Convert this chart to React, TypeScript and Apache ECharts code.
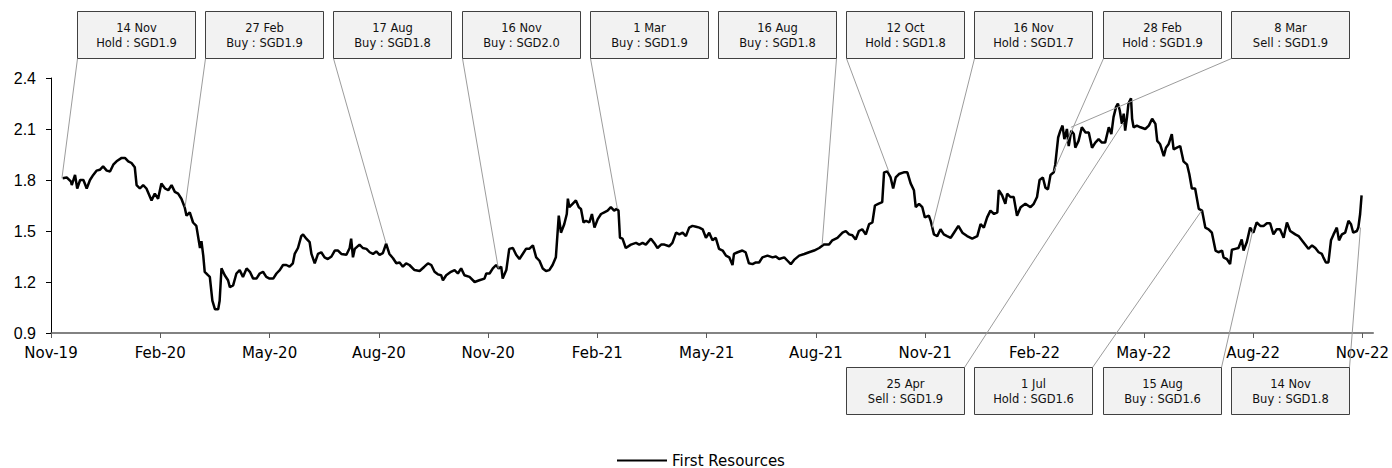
import React, { useEffect, useRef } from "react";
import * as echarts from "echarts";

// ---------- DATA ----------
// x positions are months since 1 Nov 2019 (Nov-19 = 0, Nov-22 = 36)
const xTickLabels = ["Nov-19", "Feb-20", "May-20", "Aug-20", "Nov-20", "Feb-21", "May-21", "Aug-21", "Nov-21", "Feb-22", "May-22", "Aug-22", "Nov-22"];
const xTickMonths = [0, 3, 6, 9, 12, 15, 18, 21, 24, 27, 30, 33, 36];
const seriesName = "First Resources";

const pricesA: [number, number][] = [
  [0.32, 1.81], [0.43, 1.815], [0.55, 1.79], [0.57, 1.77], [0.66, 1.83], [0.72, 1.75], [0.8, 1.8], [0.89, 1.8], [0.98, 1.75], [1.07, 1.8],
  [1.16, 1.83], [1.25, 1.855], [1.34, 1.86], [1.43, 1.88], [1.53, 1.855], [1.62, 1.85], [1.71, 1.89], [1.8, 1.91], [1.94, 1.93], [2.03, 1.93],
  [2.12, 1.91], [2.21, 1.9], [2.3, 1.875], [2.35, 1.77], [2.44, 1.75], [2.53, 1.77], [2.62, 1.75], [2.76, 1.68], [2.85, 1.72], [2.94, 1.69],
  [3.03, 1.78], [3.13, 1.75], [3.22, 1.74], [3.31, 1.77], [3.4, 1.73], [3.49, 1.72], [3.58, 1.69], [3.67, 1.64], [3.72, 1.59], [3.81, 1.61],
  [3.9, 1.55], [3.99, 1.53], [4.09, 1.4], [4.13, 1.44], [4.18, 1.355], [4.22, 1.26], [4.31, 1.24], [4.36, 1.23], [4.43, 1.09], [4.5, 1.04],
  [4.59, 1.04], [4.63, 1.09], [4.68, 1.28], [4.77, 1.24], [4.86, 1.21], [4.91, 1.17], [5.0, 1.18], [5.09, 1.25], [5.18, 1.27], [5.27, 1.23],
  [5.37, 1.28], [5.46, 1.26], [5.55, 1.22], [5.64, 1.22], [5.73, 1.25], [5.82, 1.26], [5.91, 1.23], [6.0, 1.22], [6.1, 1.22], [6.19, 1.25],
  [6.28, 1.27], [6.37, 1.3], [6.46, 1.3], [6.55, 1.29], [6.64, 1.31], [6.69, 1.365], [6.78, 1.4], [6.87, 1.47], [6.92, 1.48], [7.01, 1.455],
  [7.1, 1.435], [7.15, 1.365], [7.24, 1.31], [7.33, 1.365], [7.42, 1.375], [7.51, 1.345], [7.6, 1.335], [7.7, 1.35], [7.79, 1.385], [7.88, 1.385],
  [7.97, 1.365], [8.11, 1.36], [8.2, 1.4], [8.24, 1.455], [8.29, 1.345], [8.34, 1.395], [8.47, 1.42], [8.56, 1.4], [8.66, 1.395], [8.75, 1.375],
  [8.84, 1.365], [8.93, 1.38], [9.02, 1.36], [9.11, 1.37], [9.2, 1.425], [9.29, 1.365], [9.39, 1.34], [9.48, 1.31], [9.57, 1.315], [9.66, 1.29],
  [9.75, 1.31], [9.84, 1.3], [9.98, 1.27], [10.12, 1.265], [10.25, 1.29], [10.35, 1.31], [10.44, 1.3], [10.53, 1.26], [10.62, 1.245], [10.71, 1.24],
  [10.76, 1.21], [10.85, 1.24], [10.98, 1.26], [11.08, 1.27], [11.17, 1.25], [11.26, 1.28], [11.35, 1.24],
];

const pricesB: [number, number][] = [
  [11.49, 1.23], [11.63, 1.2], [11.76, 1.21], [11.9, 1.22], [11.95, 1.25], [12.04, 1.25], [12.13, 1.28], [12.22, 1.3], [12.29, 1.28], [12.36, 1.29],
  [12.4, 1.22], [12.5, 1.27], [12.58, 1.395], [12.68, 1.4], [12.77, 1.36], [12.86, 1.335], [12.95, 1.365], [13.04, 1.395], [13.13, 1.395], [13.23, 1.415],
  [13.32, 1.345], [13.41, 1.325], [13.5, 1.28], [13.59, 1.265], [13.68, 1.27], [13.77, 1.3], [13.86, 1.345], [13.94, 1.59], [14.0, 1.49], [14.09, 1.54],
  [14.16, 1.6], [14.19, 1.69], [14.23, 1.64], [14.32, 1.66], [14.41, 1.68], [14.49, 1.64], [14.55, 1.63], [14.62, 1.55], [14.69, 1.56], [14.78, 1.55],
  [14.85, 1.6], [14.92, 1.52], [15.01, 1.57], [15.1, 1.6], [15.19, 1.61], [15.28, 1.62], [15.37, 1.64], [15.46, 1.62], [15.53, 1.63], [15.58, 1.62],
  [15.62, 1.46], [15.69, 1.455], [15.78, 1.4], [15.92, 1.42], [16.06, 1.43], [16.15, 1.42], [16.24, 1.43], [16.33, 1.42], [16.47, 1.455], [16.56, 1.43],
  [16.65, 1.4], [16.75, 1.42], [16.84, 1.42], [16.97, 1.41], [17.06, 1.43], [17.16, 1.49], [17.25, 1.48], [17.34, 1.49], [17.43, 1.47], [17.52, 1.52],
  [17.61, 1.53], [17.71, 1.525], [17.8, 1.52], [17.89, 1.51], [17.98, 1.46], [18.07, 1.49], [18.16, 1.445], [18.25, 1.46], [18.34, 1.395], [18.44, 1.385],
  [18.53, 1.355], [18.62, 1.345], [18.71, 1.3], [18.75, 1.365], [18.85, 1.375], [18.98, 1.385], [19.07, 1.375], [19.16, 1.31], [19.26, 1.305], [19.35, 1.315],
  [19.44, 1.315], [19.53, 1.345], [19.67, 1.355], [19.81, 1.345], [19.9, 1.35], [19.99, 1.335], [20.13, 1.345], [20.22, 1.325], [20.31, 1.305], [20.4, 1.33],
  [20.54, 1.355], [20.68, 1.365], [20.81, 1.375], [20.95, 1.385], [21.09, 1.4], [21.22, 1.42], [21.36, 1.42], [21.45, 1.445], [21.59, 1.46], [21.73, 1.49],
  [21.82, 1.5], [21.91, 1.48], [22.0, 1.475], [22.09, 1.45], [22.18, 1.5], [22.27, 1.51], [22.37, 1.48], [22.46, 1.54], [22.55, 1.55], [22.62, 1.65],
  [22.71, 1.66], [22.82, 1.67], [22.87, 1.845], [22.96, 1.85], [23.05, 1.815], [23.12, 1.75], [23.19, 1.815], [23.28, 1.835], [23.41, 1.845], [23.51, 1.845],
  [23.6, 1.78], [23.69, 1.74], [23.74, 1.64], [23.83, 1.66], [23.92, 1.64], [23.99, 1.58], [24.1, 1.59],
];

const pricesC: [number, number][] = [
  [24.15, 1.56], [24.24, 1.48], [24.33, 1.47], [24.42, 1.51], [24.51, 1.48], [24.6, 1.47], [24.7, 1.46], [24.79, 1.49], [24.91, 1.53], [25.02, 1.49],
  [25.15, 1.47], [25.29, 1.455], [25.43, 1.47], [25.52, 1.54], [25.61, 1.52], [25.7, 1.58], [25.79, 1.62], [25.89, 1.6], [25.98, 1.61], [26.02, 1.74],
  [26.11, 1.71], [26.2, 1.66], [26.25, 1.72], [26.34, 1.7], [26.43, 1.7], [26.52, 1.59], [26.62, 1.64], [26.75, 1.66], [26.89, 1.64], [26.98, 1.66],
  [27.07, 1.7], [27.14, 1.8], [27.23, 1.815], [27.3, 1.755], [27.37, 1.745], [27.44, 1.83], [27.53, 1.845], [27.57, 1.89], [27.65, 2.05], [27.71, 2.09],
  [27.77, 2.12], [27.82, 2.04], [27.89, 2.1], [27.94, 2.0], [28.01, 2.09], [28.08, 2.07], [28.12, 1.99], [28.21, 2.03], [28.3, 2.11], [28.4, 2.08],
  [28.49, 2.08], [28.58, 1.99], [28.67, 2.02], [28.76, 2.04], [28.85, 2.02], [28.94, 2.02], [29.04, 2.11], [29.11, 2.07], [29.17, 2.17], [29.24, 2.23],
  [29.29, 2.25], [29.34, 2.21], [29.4, 2.13], [29.45, 2.19], [29.49, 2.09], [29.54, 2.17], [29.58, 2.25], [29.65, 2.28], [29.68, 2.16], [29.72, 2.11],
  [29.81, 2.12], [29.91, 2.11], [30.04, 2.1], [30.14, 2.12], [30.23, 2.16], [30.32, 2.13], [30.37, 2.03], [30.45, 2.01], [30.55, 1.94], [30.61, 1.99],
  [30.68, 2.01], [30.77, 2.07], [30.82, 1.98], [30.91, 1.99], [31.0, 2.0], [31.09, 1.91], [31.19, 1.89], [31.25, 1.835], [31.32, 1.75], [31.41, 1.75],
  [31.51, 1.63], [31.6, 1.62], [31.69, 1.52], [31.78, 1.51], [31.87, 1.49], [31.97, 1.385], [32.05, 1.375], [32.15, 1.385], [32.19, 1.345], [32.28, 1.335],
  [32.37, 1.305], [32.42, 1.39], [32.51, 1.395], [32.6, 1.4], [32.69, 1.45], [32.74, 1.385], [32.83, 1.435], [32.92, 1.52], [33.01, 1.49], [33.1, 1.55],
  [33.2, 1.53], [33.29, 1.53], [33.38, 1.545], [33.47, 1.545], [33.56, 1.48], [33.65, 1.51], [33.74, 1.51], [33.84, 1.46], [33.93, 1.55], [34.02, 1.5],
  [34.16, 1.48], [34.25, 1.47], [34.34, 1.445], [34.43, 1.42], [34.52, 1.395], [34.62, 1.415], [34.71, 1.4], [34.8, 1.375], [34.89, 1.365], [34.93, 1.345],
  [35.0, 1.315], [35.07, 1.315], [35.14, 1.445], [35.21, 1.48], [35.3, 1.52], [35.36, 1.445], [35.44, 1.48], [35.53, 1.49], [35.62, 1.56], [35.69, 1.54],
  [35.75, 1.49], [35.85, 1.5], [35.89, 1.52], [35.94, 1.6], [35.98, 1.71],
];

// Analyst calls: date label, rating, target price, and the chart point they refer to
const callDates = ["14 Nov", "27 Feb", "17 Aug", "16 Nov", "1 Mar", "16 Aug", "12 Oct", "16 Nov", "28 Feb", "8 Mar", "25 Apr", "1 Jul", "15 Aug", "14 Nov"];
const callRatings = ["Hold", "Buy", "Buy", "Buy", "Buy", "Buy", "Hold", "Hold", "Hold", "Sell", "Sell", "Hold", "Buy", "Buy"];
const callTargets = ["1.9", "1.9", "1.8", "2.0", "1.9", "1.8", "1.8", "1.7", "1.9", "1.9", "1.9", "1.6", "1.6", "1.8"];
const callMonths = [0.3, 3.68, 9.2, 12.28, 15.55, 21.17, 23.0, 24.19, 27.53, 28.0, 29.45, 31.59, 33.01, 35.95];
const callPrices = [1.81, 1.64, 1.425, 1.28, 1.63, 1.42, 1.85, 1.52, 1.85, 2.11, 2.14, 1.62, 1.52, 1.52];

// ---------- LAYOUT ----------
const W = 1392;
const H = 468;
const BOX_W = 118;
const BOX_H = 47;
const BOX_X0 = 77;
const BOX_STEP = 128.2;
const TOP_Y = 11;
const BOTTOM_Y = 367;
// column, row (0 top / 1 bottom), side of the box the leader line leaves from
const boxCol = [0, 1, 2, 3, 4, 5, 6, 7, 8, 9, 6, 7, 8, 9];
const boxRow = [0, 0, 0, 0, 0, 0, 0, 0, 0, 0, 1, 1, 1, 1];
const boxSide = ["l", "l", "l", "l", "l", "r", "l", "l", "l", "l", "r", "r", "r", "r"];

const FONT = '"DejaVu Sans", Verdana, sans-serif';

export default function App() {
  const ref = useRef<HTMLDivElement>(null);

  useEffect(() => {
    if (!ref.current) return;
    const chart = echarts.init(ref.current, undefined, { renderer: "svg" });
    const data = [...pricesA, ...pricesB, ...pricesC];

    chart.setOption({
      animation: false,
      backgroundColor: "#ffffff",
      grid: { left: 51, right: 17, top: 78, bottom: 135 },
      xAxis: {
        type: "value",
        min: 0,
        max: 36.3,
        interval: 3,
        axisLine: { show: true, lineStyle: { color: "#5a5a5a", width: 1.5 } },
        axisTick: { show: true, length: 5, inside: false, lineStyle: { color: "#5a5a5a" }, customValues: xTickMonths },
        axisLabel: {
          customValues: xTickMonths,
          formatter: (v: number) => {
            const i = xTickMonths.indexOf(Math.round(v));
            return i >= 0 ? xTickLabels[i] : "";
          },
          color: "#000",
          fontFamily: FONT,
          fontSize: 15,
          margin: 12,
        },
        splitLine: { show: false },
      },
      yAxis: {
        type: "value",
        min: 0.9,
        max: 2.4,
        interval: 0.3,
        axisLine: { show: true, lineStyle: { color: "#000", width: 1 } },
        axisTick: { show: true, length: 5, inside: false, lineStyle: { color: "#000" } },
        axisLabel: {
          formatter: (v: number) => v.toFixed(1),
          color: "#000",
          fontFamily: '"Liberation Sans", Arial, sans-serif',
          fontSize: 16,
          margin: 15,
        },
        splitLine: { show: false },
      },
      legend: {
        show: true,
        bottom: 0,
        left: 617,
        padding: 0,
        icon: "path://M0,0 L50,0 L50,2 L0,2 Z",
        itemWidth: 50,
        itemHeight: 14,
        itemGap: 5,
        textStyle: { color: "#000", fontFamily: FONT, fontSize: 15 },
        data: [seriesName],
      },
      series: [
        {
          name: seriesName,
          type: "line",
          data,
          symbol: "none",
          showSymbol: false,
          lineStyle: { color: "#000", width: 2.5 },
          itemStyle: { color: "#000" },
        },
      ],
    });

    const elements: any[] = [];
    for (let i = 0; i < callDates.length; i++) {
      const pt = chart.convertToPixel({ xAxisIndex: 0, yAxisIndex: 0 }, [callMonths[i], callPrices[i]]) as number[];
      const bx = Math.round(BOX_X0 + BOX_STEP * boxCol[i]) + 0.5;
      const by = (boxRow[i] === 0 ? TOP_Y : BOTTOM_Y) + 0.5;
      const ax = boxSide[i] === "l" ? bx : bx + BOX_W;
      const ay = boxRow[i] === 0 ? by + BOX_H : by;
      elements.push({
        type: "line",
        z: 10,
        shape: { x1: ax, y1: ay, x2: pt[0], y2: pt[1] },
        style: { stroke: "#9c9c9c", lineWidth: 1 },
        silent: true,
      });
    }
    for (let i = 0; i < callDates.length; i++) {
      const bx = Math.round(BOX_X0 + BOX_STEP * boxCol[i]) + 0.5;
      const by = (boxRow[i] === 0 ? TOP_Y : BOTTOM_Y) + 0.5;
      const cx = bx + BOX_W / 2;
      elements.push({
        type: "rect",
        z: 20,
        shape: { x: bx, y: by, width: BOX_W, height: BOX_H },
        style: { fill: "#f2f2f2", stroke: "#404040", lineWidth: 1 },
        silent: true,
      });
      elements.push({
        type: "text",
        z: 21,
        x: cx,
        y: by + 16,
        style: {
          text: callDates[i],
          fill: "#111",
          font: `11.5px ${FONT}`,
          textAlign: "center",
          textVerticalAlign: "middle",
          align: "center",
          verticalAlign: "middle",
        },
        silent: true,
      });
      elements.push({
        type: "text",
        z: 21,
        x: cx,
        y: by + 31,
        style: {
          text: `${callRatings[i]} : SGD${callTargets[i]}`,
          fill: "#111",
          font: `11.5px ${FONT}`,
          textAlign: "center",
          textVerticalAlign: "middle",
          align: "center",
          verticalAlign: "middle",
        },
        silent: true,
      });
    }
    chart.setOption({ graphic: { elements } });

    return () => {
      chart.dispose();
    };
  }, []);

  return (
    <div
      ref={ref}
      style={{ position: "absolute", left: 0, top: 0, width: W, height: H, background: "#fff" }}
    />
  );
}
